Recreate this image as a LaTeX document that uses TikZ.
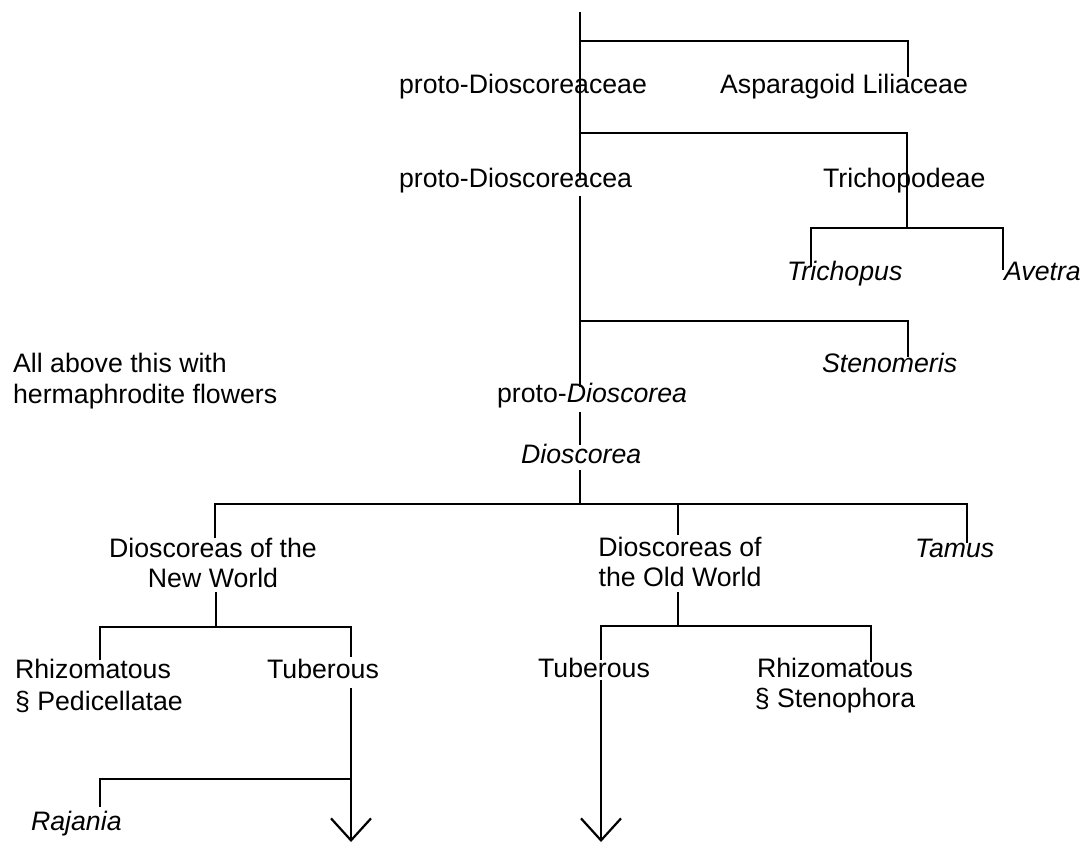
\documentclass[tikz,border=0pt]{standalone}
\usepackage{fontspec}
\setmainfont{Liberation Sans}
\usetikzlibrary{arrows.meta}
\tikzset{>={Straight Barb[length=11pt,width=20pt]}}

\begin{document}
\begin{tikzpicture}[x=0.5pt,y=-0.5pt,line width=1.1pt,line cap=butt,
		lbl/.style={inner sep=0pt,anchor=base west,font=\fontsize{13.35}{15}\selectfont},
		lbltwo/.style={inner sep=0pt,anchor=north,align=center,font=\fontsize{13.35}{15}\selectfont}]
		\useasboundingbox (0,0) rectangle (1085,843);
		% labels
		\node[lbl] (pdcae) at (398,93) {proto-Dioscoreaceae};
		\node[lbl] (aspl) at (719,93) {Asparagoid Liliaceae};
		\node[lbl] (pdcea) at (398,187) {proto-Dioscoreacea};
		\node[lbl] (trpd) at (822,187) {Trichopodeae};
		\node[lbl] (trcp) at (786,280) {\textit{Trichopus}};
		\node[lbl] (avtr) at (1003,280) {\textit{Avetra}};
		\node[lbl] (stnm) at (821,372) {\textit{Stenomeris}};
		\node[lbltwo,anchor=north west,align=left,font=\fontsize{13.35}{15.5}\selectfont] (note) at (12,352.5) {All above this with\\hermaphrodite flowers};
		\node[lbl] (pdsc) at (496,402) {proto-\textit{Dioscorea}};
		\node[lbl] (dsc) at (520,463) {\textit{Dioscorea}};
		\node[lbltwo] (nwld) at (213,537.5) {Dioscoreas of the\\New World};
		\node[lbltwo] (owld) at (680,536.5) {Dioscoreas of\\the Old World};
		\node[lbl] (tams) at (914,557) {\textit{Tamus}};
		\node[lbltwo,anchor=north west,align=left,font=\fontsize{13.35}{16}\selectfont] (rzpd) at (14,658.5) {Rhizomatous\\§ Pedicellatae};
		\node[lbl] (tbnw) at (266,678) {Tuberous};
		\node[lbl] (tbow) at (537,677) {Tuberous};
		\node[lbltwo] (rzst) at (835,657.5) {Rhizomatous\\§ Stenophora};
		\node[lbl] (rjn) at (30,830) {\textit{Rajania}};
		% branch points and line ends
		\coordinate (root) at (580,12);
		\coordinate (s1) at (580,41);
		\coordinate (s2) at (580,133);
		\coordinate (s3) at (580,321);
		\coordinate (s4) at (580,504);
		\coordinate (e1) at (580,180);
		\coordinate (e2) at (580,196);
		\coordinate (e3) at (580,387);
		\coordinate (e4) at (580,412);
		\coordinate (e5) at (580,445);
		\coordinate (e6) at (580,470);
		\coordinate (casp) at (908,77);
		\coordinate (tp) at (907,228);
		\coordinate (ctr) at (811,267);
		\coordinate (cav) at (1003,270);
		\coordinate (cstn) at (908,357);
		\coordinate (cnw) at (215,538);
		\coordinate (cow) at (678,535);
		\coordinate (ctam) at (967,543);
		\coordinate (enw) at (216,592);
		\coordinate (jnw) at (216,627);
		\coordinate (crz) at (100,660);
		\coordinate (ctbn) at (351,657);
		\coordinate (eow) at (678,592);
		\coordinate (jow) at (678,626);
		\coordinate (ctbo) at (601,660);
		\coordinate (crzs) at (871,662);
		\coordinate (anw) at (351,688);
		\coordinate (tnw) at (351,842);
		\coordinate (jrj) at (351,779);
		\coordinate (crj) at (100,807);
		\coordinate (aow) at (601,680);
		\coordinate (tow) at (601,842);
		% main stem
		\draw (root) -- (e1);
		\draw (e2) -- (e3);
		\draw (e4) -- (e5);
		\draw (e6) -- (s4);
		% side branches
		\draw (s1) -| (casp);
		\draw (s2) -| (tp);
		\draw (ctr) |- (tp) -| (cav);
		\draw (s3) -| (cstn);
		\draw (cnw) |- (s4) -| (ctam);
		\draw (cow) -- (cow |- s4);
		\draw (enw) -- (jnw);
		\draw (crz) |- (jnw) -| (ctbn);
		\draw (eow) -- (jow);
		\draw (ctbo) |- (jow) -| (crzs);
		\draw[->] (anw) -- (tnw);
		\draw (jrj) -| (crj);
		\draw[->] (aow) -- (tow);
\end{tikzpicture}
\end{document}
